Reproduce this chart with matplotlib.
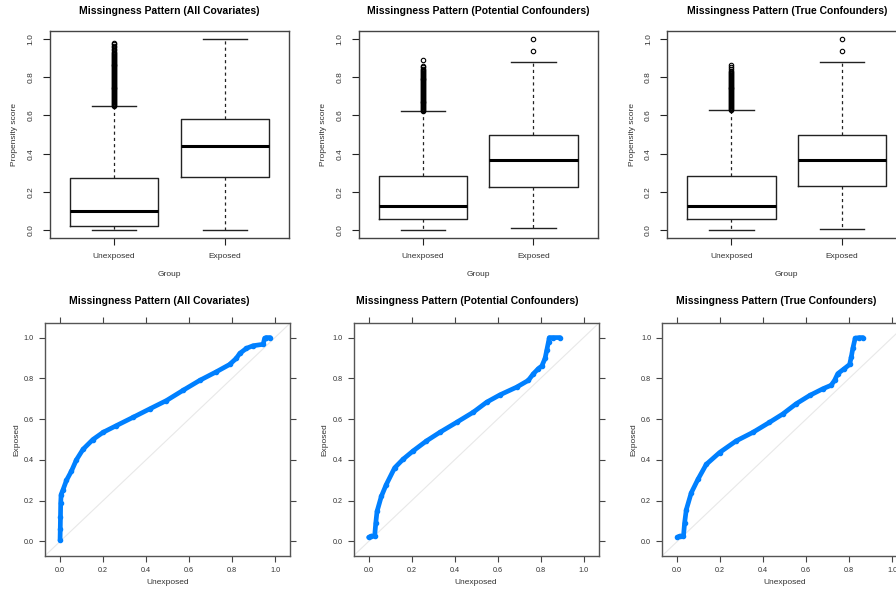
import matplotlib
matplotlib.use("Agg")
import matplotlib.pyplot as plt

plt.rcParams['font.family'] = ['Liberation Sans', 'DejaVu Sans']

panel_titles = ["Missingness Pattern (All Covariates)",
                "Missingness Pattern (Potential Confounders)",
                "Missingness Pattern (True Confounders)"]
groups = ["Unexposed", "Exposed"]

# Box-plot summaries: [whisker low, Q1, median, Q3, whisker high] per group
unexposed_stats = [
    [0.000, 0.020, 0.100, 0.272, 0.648],
    [0.000, 0.058, 0.128, 0.283, 0.620],
    [0.000, 0.058, 0.127, 0.283, 0.628],
]
exposed_stats = [
    [0.000, 0.277, 0.438, 0.580, 1.000],
    [0.010, 0.227, 0.366, 0.499, 0.880],
    [0.009, 0.229, 0.366, 0.499, 0.878],
]
unexposed_outliers = [
    [0.650, 0.655, 0.660, 0.665, 0.670, 0.675, 0.680, 0.685, 0.690, 0.695,
     0.700, 0.705, 0.710, 0.715, 0.720, 0.725, 0.730, 0.735, 0.740, 0.745,
     0.750, 0.755, 0.760, 0.765, 0.770, 0.775, 0.780, 0.785, 0.790, 0.795,
     0.800, 0.805, 0.810, 0.815, 0.820, 0.825, 0.830, 0.835, 0.840, 0.845,
     0.850, 0.855, 0.860, 0.865, 0.870, 0.875, 0.880, 0.885, 0.890, 0.895,
     0.900, 0.905, 0.910, 0.915, 0.920, 0.925, 0.932, 0.940, 0.948, 0.956,
     0.964, 0.972, 0.980],
    [0.622, 0.627, 0.632, 0.637, 0.642, 0.647, 0.652, 0.657, 0.662, 0.667,
     0.672, 0.677, 0.682, 0.687, 0.692, 0.697, 0.702, 0.707, 0.712, 0.717,
     0.722, 0.727, 0.732, 0.737, 0.742, 0.747, 0.752, 0.757, 0.762, 0.767,
     0.772, 0.777, 0.782, 0.787, 0.792, 0.797, 0.802, 0.807, 0.812, 0.817,
     0.822, 0.827, 0.832, 0.837, 0.842, 0.850, 0.858, 0.890],
    [0.630, 0.635, 0.640, 0.645, 0.650, 0.655, 0.660, 0.665, 0.670, 0.675,
     0.680, 0.685, 0.690, 0.695, 0.700, 0.705, 0.710, 0.715, 0.720, 0.725,
     0.730, 0.735, 0.740, 0.745, 0.750, 0.755, 0.760, 0.765, 0.770, 0.775,
     0.780, 0.785, 0.790, 0.795, 0.800, 0.805, 0.810, 0.815, 0.820, 0.825,
     0.833, 0.841, 0.850, 0.863],
]
exposed_outliers = [
    [],
    [0.937, 1.000],
    [0.937, 1.000],
]

# Quantile-quantile pairs (Unexposed quantile, Exposed quantile)
qq_unexposed = [
    [0.000, 0.001, 0.002, 0.003, 0.005, 0.014, 0.030, 0.053, 0.076, 0.107,
     0.153, 0.200, 0.262, 0.340, 0.417, 0.495, 0.572, 0.650, 0.727, 0.789,
     0.820, 0.836, 0.867, 0.898, 0.945, 0.952, 0.960, 0.978],
    [0.000, 0.012, 0.028, 0.033, 0.039, 0.059, 0.082, 0.121, 0.160, 0.207,
     0.269, 0.331, 0.409, 0.487, 0.549, 0.611, 0.689, 0.743, 0.767, 0.790,
     0.806, 0.821, 0.829, 0.837, 0.841, 0.860, 0.891],
    [0.000, 0.011, 0.029, 0.034, 0.042, 0.065, 0.096, 0.135, 0.197, 0.274,
     0.352, 0.429, 0.491, 0.553, 0.616, 0.678, 0.716, 0.732, 0.747, 0.778,
     0.802, 0.810, 0.817, 0.828, 0.848, 0.864],
]
qq_exposed = [
    [0.005, 0.060, 0.120, 0.188, 0.230, 0.254, 0.300, 0.345, 0.400, 0.452,
     0.500, 0.535, 0.568, 0.609, 0.650, 0.691, 0.741, 0.790, 0.832, 0.868,
     0.898, 0.922, 0.947, 0.960, 0.967, 0.997, 1.000, 1.000],
    [0.020, 0.026, 0.026, 0.089, 0.147, 0.221, 0.279, 0.361, 0.403, 0.444,
     0.493, 0.535, 0.584, 0.634, 0.683, 0.719, 0.757, 0.790, 0.823, 0.848,
     0.861, 0.898, 0.939, 0.980, 1.000, 1.000, 1.000],
    [0.020, 0.026, 0.026, 0.089, 0.155, 0.238, 0.304, 0.378, 0.436, 0.493,
     0.535, 0.584, 0.625, 0.675, 0.716, 0.749, 0.766, 0.790, 0.823, 0.848,
     0.868, 0.906, 0.947, 0.997, 1.000, 1.000],
]

W, H = 896, 592
fig = plt.figure(figsize=(W / 100, H / 100), dpi=100)
col_step = 308.6


def fx(px):
    return px / W


def fy(py):
    return 1 - py / H


box_color = '#222222'
text_color = '#333333'

# ---- top row: box plots ----
for i in range(3):
    left = 50 + i * col_step
    ax = fig.add_axes([fx(left), fy(238), 239 / W, 207 / H])
    stats = []
    for s, fl in ((unexposed_stats[i], unexposed_outliers[i]),
                  (exposed_stats[i], exposed_outliers[i])):
        stats.append(dict(whislo=s[0], q1=s[1], med=s[2], q3=s[3],
                          whishi=s[4], fliers=fl))
    ax.bxp(stats, positions=[1, 2], widths=0.8, capwidths=0.4,
           boxprops=dict(color=box_color, lw=1.0),
           medianprops=dict(color='black', lw=2.2, solid_capstyle='butt'),
           whiskerprops=dict(color=box_color, lw=0.9, linestyle=(0, (2.5, 2.5))),
           capprops=dict(color=box_color, lw=1.0),
           flierprops=dict(marker='o', markersize=3.2, markerfacecolor='none',
                           markeredgecolor='black', markeredgewidth=0.8))
    ax.set_xlim(0.42, 2.58)
    ax.set_ylim(-0.04, 1.04)
    ax.set_xticks([1, 2])
    ax.set_xticklabels(groups)
    ax.set_yticks([0, 0.2, 0.4, 0.6, 0.8, 1.0])
    ax.set_yticklabels(['0.0', '0.2', '0.4', '0.6', '0.8', '1.0'],
                       rotation=90, va='center')
    ax.tick_params(direction='out', length=5, width=0.8, color=box_color,
                   labelsize=6, labelcolor=text_color, pad=6)
    for sp in ax.spines.values():
        sp.set_color('#444444')
        sp.set_linewidth(1.0)
    cx = left + 119.5
    fig.text(fx(cx), fy(11), panel_titles[i], ha='center', va='center',
             fontsize=7.5, fontweight='bold', color='black')
    fig.text(fx(cx), fy(275), "Group", ha='center', va='center',
             fontsize=6, color=text_color)
    fig.text(fx(left - 35), fy(134.5), "Propensity score", ha='center',
             va='center', rotation=90, fontsize=6, color=text_color)

# ---- bottom row: quantile-quantile plots ----
ticks = [0.0, 0.2, 0.4, 0.6, 0.8, 1.0]
tick_labels = ['0.0', '0.2', '0.4', '0.6', '0.8', '1.0']
for i in range(3):
    left = 45 + i * col_step
    ax = fig.add_axes([fx(left), fy(555.7), 245 / W, 232.4 / H])
    ax.plot([-0.07, 1.07], [-0.07, 1.07], color='#e8e8e8', lw=0.8, zorder=1)
    ax.plot(qq_unexposed[i], qq_exposed[i], '-o', color='#0080ff', lw=3.4,
            markersize=3.0, solid_capstyle='round', solid_joinstyle='round',
            zorder=2)
    ax.set_xlim(-0.07, 1.07)
    ax.set_ylim(-0.07, 1.07)
    ax.set_xticks(ticks)
    ax.set_xticklabels(tick_labels)
    ax.set_yticks(ticks)
    ax.set_yticklabels(tick_labels)
    ax.tick_params(direction='out', length=4, width=0.8, color='#444444',
                   top=True, right=True, labelsize=5.2, labelcolor=text_color,
                   pad=4)
    for sp in ax.spines.values():
        sp.set_color('#555555')
        sp.set_linewidth(1.0)
    cx = 159 + i * col_step
    fig.text(fx(cx), fy(301), panel_titles[i], ha='center', va='center',
             fontsize=7.5, fontweight='bold', color='black')
    fig.text(fx(left + 122.5), fy(583), "Unexposed", ha='center', va='center',
             fontsize=6, color=text_color)
    fig.text(fx(left - 28.5), fy(439.5), "Exposed", ha='center', va='center',
             rotation=90, fontsize=6, color=text_color)

fig.savefig("out.png", dpi=100)
